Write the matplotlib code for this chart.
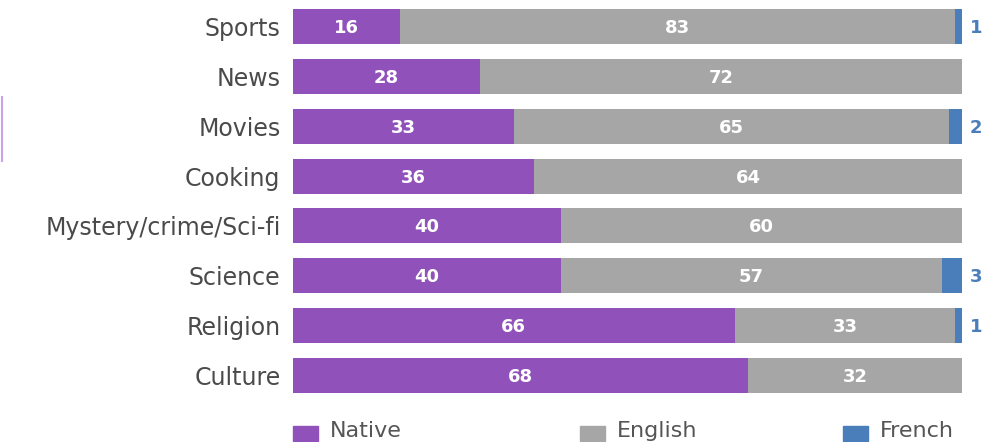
import matplotlib
matplotlib.use("Agg")
import matplotlib.pyplot as plt
from matplotlib.lines import Line2D
from matplotlib.patches import Rectangle
from matplotlib.transforms import ScaledTranslation

categories = ["Sports", "News", "Movies", "Cooking", "Mystery/crime/Sci-fi",
              "Science", "Religion", "Culture"]
native = [16, 28, 33, 36, 40, 40, 66, 68]
english = [83, 72, 65, 64, 60, 57, 33, 32]
french = [1, 0, 2, 0, 0, 3, 1, 0]
series_names = ["Native", "English", "French"]
colors = ["#9052BA", "#A6A6A6", "#4A7EBB"]

plt.rcParams['font.family'] = ['DejaVu Sans']

fig = plt.figure(figsize=(10, 4.42), dpi=100)
ax = fig.add_axes([0.293, 1 - 400 / 442, 0.962 - 0.293, 398 / 442])

ys = list(range(len(categories)))
h = 0.7
ax.barh(ys, native, height=h, color=colors[0], linewidth=0)
ax.barh(ys, english, left=native, height=h, color=colors[1], linewidth=0)
left2 = [n + e for n, e in zip(native, english)]
ax.barh(ys, french, left=left2, height=h, color=colors[2], linewidth=0)

vfont = dict(family=['DejaVu Sans'], fontsize=13, fontweight="bold")
for y, n, e, f in zip(ys, native, english, french):
    ax.text(n / 2, y + 0.03, str(n), ha="center", va="center", color="white", **vfont)
    ax.text(n + e / 2, y + 0.03, str(e), ha="center", va="center", color="white", **vfont)
    if f > 0:
        ax.text(101.2, y + 0.03, str(f), ha="left", va="center", color=colors[2], **vfont)

ax.set_xlim(0, 100)
ax.set_ylim(len(categories) - 0.5, -0.5)
ax.set_yticks(ys)
ax.set_yticklabels(categories, fontsize=17, color="#4a4a4a")
shift = ScaledTranslation(0, 2 / 100, fig.dpi_scale_trans)
for lbl in ax.get_yticklabels():
    lbl.set_transform(lbl.get_transform() + shift)
ax.tick_params(axis="y", length=0, pad=9)
ax.set_xticks([])
for s in ax.spines.values():
    s.set_visible(False)

# legend (manual, partly cut off at bottom as in reference)
leg_x = [293, 580, 843]
for name, c, x in zip(series_names, colors, leg_x):
    fig.patches.append(Rectangle((x / 1000, 1 - 441 / 442), 25 / 1000, 15 / 442,
                                 transform=fig.transFigure, color=c))
    fig.text((x + 37) / 1000, 1 - 431 / 442, name, fontsize=16, color="#555555",
             va="center", ha="left")

# thin purple line at far left
fig.add_artist(Line2D([1.5 / 1000, 1.5 / 1000], [1 - 97 / 442, 1 - 161 / 442],
                      transform=fig.transFigure, color="#C9A3E6", linewidth=1.5))

fig.savefig("out.png", dpi=100)
